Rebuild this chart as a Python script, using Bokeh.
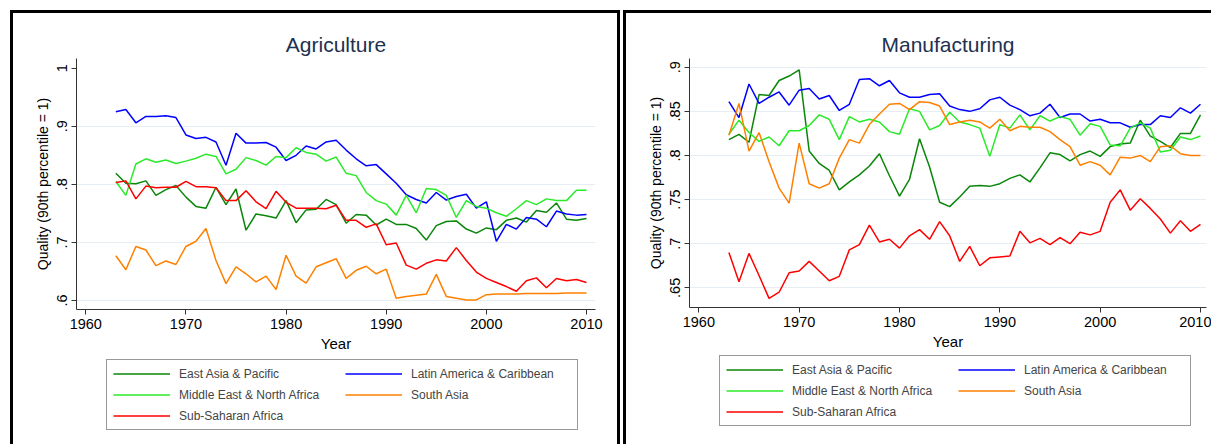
from bokeh.plotting import figure
from bokeh.models import FixedTicker, Legend, LegendItem, Range1d
from bokeh.layouts import row, column
from bokeh.embed import file_html
from bokeh.resources import INLINE

years = list(range(1963, 2011))

series_names = ["East Asia & Pacific", "Latin America & Caribbean",
                "Middle East & North Africa", "South Asia", "Sub-Saharan Africa"]
series_colors = ["#0a860a", "#0000ff", "#2aea2a", "#ff8000", "#ff0000"]

# ---- Agriculture ----
agri_eap = [.819, .802, .801, .806, .781, .791, .798,
            .778, .762, .759, .795, .765, .792, .721, .749, .746, .742,
            .772, .734, .756, .757, .774, .765, .733, .748, .747, .730,
            .740, .731, .731, .724, .704, .729, .736, .737, .723, .716,
            .725, .722, .738, .742, .735, .755, .752, .768, .740, .738, .741]
agri_lac = [.925, .929, .906, .917, .917, .918, .915,
            .885, .879, .881, .873, .833, .888, .871, .871, .872, .864,
            .841, .850, .866, .861, .873, .876, .859, .844, .832, .834,
            .818, .802, .782, .774, .768, .786, .773, .779, .783, .759,
            .770, .702, .731, .723, .743, .740, .727, .754, .749, .747, .748]
agri_mena = [.805, .781, .835, .844, .838, .842, .836,
             .840, .845, .852, .848, .818, .826, .846, .841, .833, .848,
             .846, .863, .855, .852, .840, .847, .819, .815, .786, .772,
             .766, .747, .781, .751, .793, .791, .781, .743, .772, .762,
             .759, .751, .745, .758, .772, .765, .775, .772, .772, .790, .790]
agri_sa = [.677, .653, .693, .687, .660, .668, .662,
           .693, .702, .724, .669, .629, .658, .646, .632, .642, .619,
           .678, .642, .630, .658, .665, .672, .638, .652, .659, .646,
           .654, .604, .607, .609, .611, .645, .607, .604, .601, .601,
           .610, .611, .611, .611, .612, .612, .612, .612, .613, .613, .613]
agri_ssa = [.803, .806, .775, .797, .794, .795, .795,
            .805, .796, .796, .794, .772, .772, .789, .770, .758, .788,
            .769, .759, .759, .759, .758, .764, .738, .738, .726, .732,
            .696, .699, .661, .654, .664, .670, .668, .691, .669, .649,
            .638, .631, .624, .616, .634, .639, .622, .638, .634, .636, .631]

# ---- Manufacturing ----
manu_eap = [.818, .824, .815, .869, .868, .885, .890,
            .897, .805, .791, .783, .761, .770, .778, .788, .802, .777,
            .754, .773, .819, .787, .747, .742, .753, .765, .766, .765,
            .768, .774, .778, .770, .786, .803, .801, .794, .801, .805,
            .799, .810, .813, .814, .840, .822, .816, .809, .825, .825, .846]
manu_lac = [.861, .843, .881, .859, .866, .872, .857,
            .874, .876, .864, .868, .851, .858, .886, .887, .879, .885,
            .871, .866, .866, .869, .870, .856, .852, .850, .853, .863,
            .866, .857, .852, .845, .848, .858, .843, .847, .847, .839,
            .841, .837, .837, .832, .835, .835, .845, .843, .854, .848, .858]
manu_mena = [.824, .840, .826, .816, .821, .811, .828,
             .828, .834, .846, .841, .818, .844, .838, .841, .838, .827,
             .824, .853, .850, .829, .834, .849, .838, .835, .831, .799,
             .835, .831, .846, .829, .845, .839, .844, .841, .823, .836,
             .833, .812, .811, .831, .837, .831, .804, .806, .821, .818, .822]
manu_sa = [.823, .859, .805, .826, .793, .763, .746,
           .814, .768, .763, .768, .797, .818, .814, .835, .847, .858,
           .859, .852, .861, .860, .856, .835, .838, .840, .838, .831,
           .841, .828, .833, .832, .832, .827, .818, .810, .789, .793,
           .789, .778, .798, .797, .800, .793, .810, .811, .802, .800, .800]
manu_ssa = [.690, .657, .689, .664, .638, .645, .667,
            .669, .680, .669, .658, .663, .693, .699, .721, .702, .705,
            .695, .709, .716, .705, .725, .709, .680, .697, .675, .684,
            .685, .686, .714, .701, .706, .699, .707, .700, .713, .710,
            .714, .747, .761, .738, .751, .740, .728, .712, .726, .714, .722]

x_ticks = [1960, 1970, 1980, 1990, 2000, 2010]
agri_yticks = [0.6, 0.7, 0.8, 0.9, 1.0]
agri_ylabels = [".6", ".7", ".8", ".9", "1"]
agri_ygrid = [0.6, 0.7, 0.8, 0.9]
manu_yticks = [0.65, 0.7, 0.75, 0.8, 0.85, 0.9]
manu_ylabels = [".65", ".7", ".75", ".8", ".85", ".9"]

FONT = "Liberation Sans"
BORDER = "3px solid black"


def make_panel(title, series, x_end, y_start, y_end, yticks, ylabels, ygrid,
               width, mbl, mbr, mbb, right_border, leg_loc, margin):
    p = figure(width=width, height=341, output_backend="svg",
               toolbar_location=None,
               x_range=Range1d(1959.07, x_end), y_range=Range1d(y_start, y_end),
               min_border_left=mbl, min_border_right=mbr,
               min_border_top=45, min_border_bottom=mbb)
    st = {"border-top": BORDER, "border-left": BORDER}
    if right_border:
        st["border-right"] = BORDER
    p.styles = st
    p.outline_line_color = None
    p.background_fill_color = "white"
    p.border_fill_color = "white"

    p.title.text = title
    p.title.align = "center"
    p.title.text_font = FONT
    p.title.text_font_size = "21px"
    p.title.text_font_style = "normal"
    p.title.text_color = "#1e3150"
    p.title.standoff = 6

    p.xgrid.grid_line_color = None
    p.ygrid.ticker = FixedTicker(ticks=ygrid)
    p.ygrid.grid_line_color = "#e6eef4"
    p.ygrid.grid_line_width = 1

    xa = p.xaxis[0]
    xa.ticker = FixedTicker(ticks=x_ticks)
    xa.axis_label = "Year"
    ya = p.yaxis[0]
    ya.ticker = FixedTicker(ticks=yticks)
    ya.major_label_overrides = {t: l for t, l in zip(yticks, ylabels)}
    ya.major_label_orientation = "vertical"
    ya.axis_label = "Quality (90th percentile = 1)"
    for ax in (xa, ya):
        ax.axis_line_color = "#333333"
        ax.major_tick_line_color = "#333333"
        ax.minor_tick_line_color = None
        ax.major_tick_in = 0
        ax.major_tick_out = 5
        ax.major_label_text_font = FONT
        ax.major_label_text_font_size = "14.5px"
        ax.major_label_text_color = "black"
        ax.axis_label_text_font = FONT
        ax.axis_label_text_font_style = "normal"
        ax.axis_label_text_color = "black"
    xa.axis_label_text_font_size = "15px"
    ya.axis_label_text_font_size = "14px"
    xa.major_label_standoff = 4
    xa.axis_label_standoff = 3
    ya.major_label_standoff = 4
    ya.axis_label_standoff = 4

    for vals, col in zip(series, series_colors):
        p.line(years, vals, line_color=col, line_width=1.5)

    # legend strip below the plot (same width, its own frame)
    q = figure(width=width, height=93, output_backend="svg",
               toolbar_location=None, x_axis_location=None, y_axis_location=None,
               x_range=Range1d(0, 1), y_range=Range1d(0, 1),
               min_border_left=0, min_border_right=0,
               min_border_top=0, min_border_bottom=0)
    st2 = {"border-left": BORDER}
    if right_border:
        st2["border-right"] = BORDER
    q.styles = st2
    q.outline_line_color = None
    q.grid.grid_line_color = None
    q.border_fill_color = "white"
    # legend keys: same series, drawn outside this strip's ranges
    keys = [q.line(years, vals, line_color=col, line_width=1.5)
            for vals, col in zip(series, series_colors)]

    order = [0, 2, 4, 1, 3]
    items = [LegendItem(label=series_names[i], renderers=[keys[i]]) for i in order]
    legend = Legend(items=items, orientation="vertical", ncols=2,
                    location=leg_loc,
                    label_text_font=FONT, label_text_font_size="12px",
                    glyph_width=57, glyph_height=15, label_height=15,
                    label_width=160,
                    label_standoff=9, spacing=6, padding=6,
                    border_line_color="#333333", border_line_width=1,
                    background_fill_color="white", background_fill_alpha=1)
    q.add_layout(legend, "center")
    return column(p, q, spacing=0, margin=margin)


c1 = make_panel("Agriculture", [agri_eap, agri_lac, agri_mena, agri_sa, agri_ssa],
                2010.9, 0.5845, 1.0167, agri_yticks, agri_ylabels, agri_ygrid,
                610, 63, 28, 44, True, (30, 14), (10, 0, 0, 10))
c2 = make_panel("Manufacturing", [manu_eap, manu_lac, manu_mena, manu_sa, manu_ssa],
                2010.6, 0.6277, 0.9099, manu_yticks, manu_ylabels, manu_yticks,
                588, 63, 8, 47, False, (30, 18), (10, 0, 0, 3))

layout = row(c1, c2, spacing=0)
open("out.html", "w").write(file_html(layout, INLINE))
